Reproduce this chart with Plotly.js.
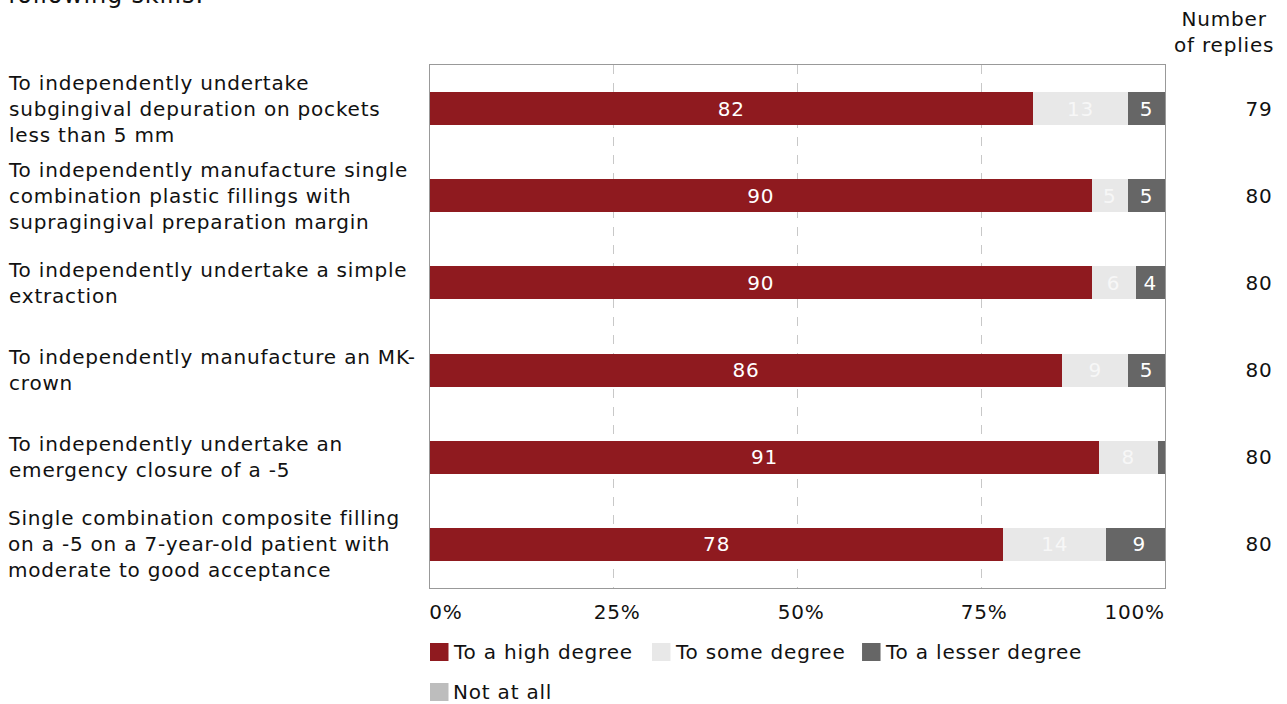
<!DOCTYPE html>
<html>
<head>
<meta charset="utf-8">
<script src="https://cdn.plot.ly/plotly-3.0.1.min.js"></script>
<style>
html,body{margin:0;padding:0;background:#fff;}
#chart{width:1287px;height:704px;}
#chart svg text{letter-spacing:0.8px;}
</style>
</head>
<body>
<div id="chart"></div>
<script>
const categories = [
  "To independently undertake<br>subgingival depuration on pockets<br>less than 5 mm",
  "To independently manufacture single<br>combination plastic fillings with<br>supragingival preparation margin",
  "To independently undertake a simple<br>extraction",
  "To independently manufacture an MK-<br>crown",
  "To independently undertake an<br>emergency closure of a -5",
  "Single combination composite filling<br>on a -5 on a 7-year-old patient with<br>moderate to good acceptance"
];
const catKeys = ["c1","c2","c3","c4","c5","c6"];
const highDegree   = [82, 90, 90, 86, 91, 78];
const someDegree   = [13, 5, 6, 9, 8, 14];
const lesserDegree = [5, 5, 4, 5, 1, 9];
const notAtAll     = [0, 0, 0, 0, 0, 0];
const replies      = [79, 80, 80, 80, 80, 80];
const seriesNames  = ["To a high degree", "To some degree", "To a lesser degree", "Not at all"];
const xTickVals    = [0, 25, 50, 75, 100];
const xTickText    = ["0%", "25%", "50%", "75%", "100%"];
const titleText    = "following skills:";
const repliesHeader = "Number<br>of replies";

const FONT = "DejaVu Sans, Verdana, sans-serif";
const FS = 20;
const colors = ["#8f1a1f", "#e8e8e8", "#666666", "#bdbdbd"];
const textColors = ["#ffffff", "#f7f7f7", "#ffffff", "#ffffff"];
const seriesData = [highDegree, someDegree, lesserDegree, notAtAll];

const traces = seriesData.map((vals, i) => ({
  type: "bar",
  orientation: "h",
  name: seriesNames[i],
  y: catKeys,
  x: vals,
  marker: {color: colors[i], line: {width: 0}},
  text: vals.map(v => v >= 2 ? String(v) : ""),
  textposition: "inside",
  insidetextanchor: "middle",
  textangle: 0,
  insidetextfont: {family: FONT, size: FS, color: textColors[i]},
  hoverinfo: "x+name",
  width: 0.38,
  showlegend: false
}));

const annotations = [];
const shapes = [];
catKeys.forEach((k, i) => {
  annotations.push({
    xref: "paper", yref: "y", x: -0.5765, y: k,
    text: categories[i], showarrow: false,
    xanchor: "left", yanchor: "middle", align: "left",
    font: {family: FONT, size: FS, color: "#111"}
  });
  annotations.push({
    xref: "paper", yref: "y", x: 1.1485, y: k,
    text: String(replies[i]), showarrow: false,
    xanchor: "right", yanchor: "middle", align: "right",
    font: {family: FONT, size: FS, color: "#111"}
  });
});
// replies header
annotations.push({
  xref: "paper", yref: "paper", x: 1.1455, y: 1.114,
  text: repliesHeader, showarrow: false,
  xanchor: "right", yanchor: "top", align: "center",
  font: {family: FONT, size: FS, color: "#111"}
});
// cut-off title
annotations.push({
  xref: "paper", yref: "paper", x: -0.5765, y: 1.104,
  text: titleText, showarrow: false,
  xanchor: "left", yanchor: "bottom", align: "left",
  font: {family: FONT, size: 24, color: "#111"}
});
// x tick labels
xTickVals.forEach((v, i) => {
  const anchor = i === 0 ? "left" : (i === xTickVals.length - 1 ? "right" : "center");
  annotations.push({
    xref: "x", yref: "paper", x: v, y: -0.019,
    xshift: anchor === "center" ? 3 : (anchor === "left" ? -2 : 0),
    text: xTickText[i], showarrow: false,
    xanchor: anchor, yanchor: "top",
    font: {family: FONT, size: FS, color: "#111"}
  });
});
// custom legend (positions in paper/pixels)
const legendX = [0, 0.302, 0.5878, 0];
const legendY = [-0.1224, -0.1224, -0.1224, -0.1989];
seriesNames.forEach((nm, i) => {
  shapes.push({
    type: "rect", xref: "paper", yref: "paper",
    xsizemode: "pixel", ysizemode: "pixel",
    xanchor: legendX[i], yanchor: legendY[i],
    x0: 0, x1: 18.5, y0: -9, y1: 9,
    fillcolor: colors[i], line: {width: 0}
  });
  annotations.push({
    xref: "paper", yref: "paper", x: legendX[i], y: legendY[i],
    xshift: 21, text: nm, showarrow: false,
    xanchor: "left", yanchor: "middle", align: "left",
    font: {family: FONT, size: FS, color: "#111"}
  });
});

const layout = {
  width: 1287, height: 704,
  margin: {l: 430, r: 122, t: 65, b: 116, pad: 0},
  paper_bgcolor: "#ffffff", plot_bgcolor: "#ffffff",
  barmode: "stack",
  showlegend: false,
  xaxis: {
    range: [0, 100], tickvals: xTickVals, showticklabels: false,
    showgrid: true, gridcolor: "#c8c8c8", griddash: "dash", gridwidth: 1,
    showline: true, linecolor: "#999999", linewidth: 1, mirror: true,
    zeroline: false, ticks: "", fixedrange: true
  },
  yaxis: {
    type: "category", categoryorder: "array", categoryarray: catKeys,
    autorange: "reversed", showticklabels: false,
    showline: true, linecolor: "#999999", linewidth: 1, mirror: true,
    showgrid: false, zeroline: false, ticks: "", fixedrange: true
  },
  shapes: shapes,
  annotations: annotations,
  font: {family: FONT}
};

Plotly.newPlot("chart", traces, layout, {displayModeBar: false, staticPlot: true});
</script>
</body>
</html>
